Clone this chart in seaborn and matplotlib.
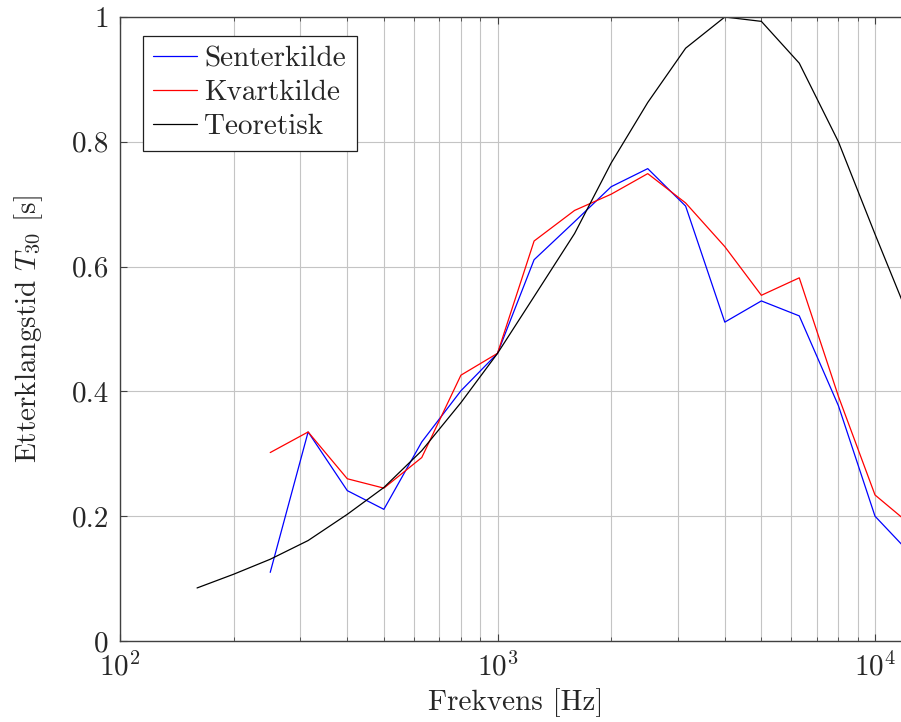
import matplotlib
matplotlib.use("Agg")
import matplotlib.pyplot as plt
import matplotlib.ticker as mticker
import numpy as np
import pandas as pd
import seaborn as sns

# Third-octave band centre frequencies [Hz]
freq_measured = [250, 315, 400, 500, 630, 800, 1000, 1250, 1600, 2000,
                 2500, 3150, 4000, 5000, 6300, 8000, 10000, 12500]
freq_theory = [160, 200, 250, 315, 400, 500, 630, 800, 1000, 1250, 1600,
               2000, 2500, 3150, 4000, 5000, 6300, 8000, 10000, 12500]

# Reverberation time T30 [s]
t30_senter = [0.110, 0.335, 0.241, 0.211, 0.319, 0.401, 0.461, 0.611, 0.672,
              0.728, 0.757, 0.697, 0.511, 0.545, 0.521, 0.377, 0.200, 0.138]
t30_kvart = [0.302, 0.335, 0.260, 0.245, 0.294, 0.426, 0.461, 0.641, 0.690,
             0.716, 0.749, 0.702, 0.632, 0.554, 0.582, 0.392, 0.234, 0.185]
t30_teori = [0.085, 0.107, 0.131, 0.161, 0.203, 0.246, 0.305, 0.382, 0.461,
             0.552, 0.653, 0.766, 0.863, 0.950, 1.000, 0.993, 0.926, 0.800,
             0.652, 0.508]

series_names = ["Senterkilde", "Kvartkilde", "Teoretisk"]
series_colors = {"Senterkilde": "#0000ff", "Kvartkilde": "#ff0000", "Teoretisk": "#000000"}

y_ticks = [0, 0.2, 0.4, 0.6, 0.8, 1.0]
x_ticks = [100, 1000, 10000]

df = pd.concat([
    pd.DataFrame({"f": freq_measured, "T30": t30_senter, "Kilde": series_names[0]}),
    pd.DataFrame({"f": freq_measured, "T30": t30_kvart, "Kilde": series_names[1]}),
    pd.DataFrame({"f": freq_theory, "T30": t30_teori, "Kilde": series_names[2]}),
], ignore_index=True)

sns.set_theme(style="white")
FS = 21
plt.rcParams.update({
    "font.family": "serif",
    "font.serif": ["cmr10", "DejaVu Serif"],
    "mathtext.fontset": "cm",
    "axes.formatter.use_mathtext": True,
    "font.size": FS,
})

W, H = 901, 722
fig = plt.figure(figsize=(W / 100, H / 100), dpi=100)
ax = fig.add_axes([120 / W, 81 / H, (911.6 - 120) / W, 624 / H])
ax.set_xscale("log")

sns.lineplot(data=df, x="f", y="T30", hue="Kilde", hue_order=series_names,
             palette=series_colors, estimator=None, sort=False,
             linewidth=0.9, ax=ax)

ax.set_xlim(100, 12500)
ax.set_ylim(0, 1)
ax.set_yticks(y_ticks)
ax.yaxis.set_major_formatter(mticker.FuncFormatter(
    lambda v, _: "0" if v == 0 else ("1" if abs(v - 1) < 1e-9 else f"{v:.1f}")))
ax.set_xticks(x_ticks)
ax.xaxis.set_major_formatter(mticker.LogFormatterSciNotation())
ax.xaxis.set_minor_locator(mticker.LogLocator(base=10, subs=np.arange(2, 10)))
ax.xaxis.set_minor_formatter(mticker.NullFormatter())

grid_col = "#c4c4c4"
ax.grid(True, which="major", axis="both", color=grid_col, linewidth=0.8)
ax.grid(True, which="minor", axis="x", color=grid_col, linewidth=0.8)
ax.set_axisbelow(True)

for s in ax.spines.values():
    s.set_color("#404040")
    s.set_linewidth(1.0)

ax.tick_params(axis="both", which="major", direction="in", length=5,
               width=0.8, color="#404040", labelsize=FS, pad=8,
               top=True, right=True, bottom=True, left=True)
ax.tick_params(axis="x", which="minor", direction="in", length=3,
               width=0.6, color="#404040", top=True, bottom=True)

ax.set_xlabel("Frekvens [Hz]", fontsize=FS, labelpad=5)
ax.set_ylabel(r"Etterklangstid $T_{30}$ [s]", fontsize=FS, labelpad=19)

leg = ax.legend(loc="upper left", bbox_to_anchor=(0.029, 0.970),
                borderaxespad=0, fontsize=FS, frameon=True, fancybox=False,
                edgecolor="#202020", framealpha=1, handlelength=1.5,
                handletextpad=0.25, labelspacing=0.25, borderpad=0.36)
leg.get_frame().set_linewidth(0.9)
for line in leg.get_lines():
    line.set_linewidth(0.9)

fig.savefig("out.png", dpi=100)
